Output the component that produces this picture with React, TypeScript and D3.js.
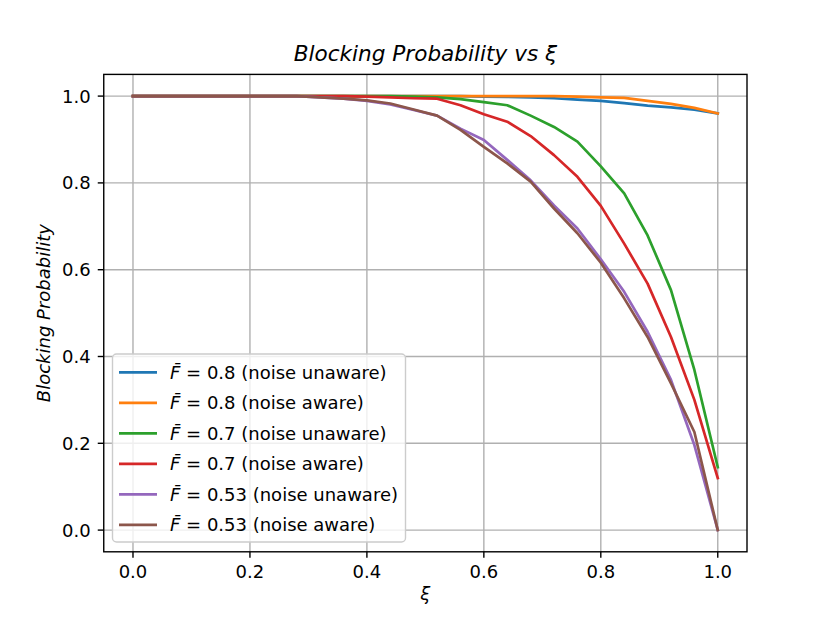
import React, { useEffect, useRef } from 'react';
import * as d3 from 'd3';

// xi sample points (0.04 step)
const xiValues = [
  0, 0.04, 0.08, 0.12, 0.16, 0.2, 0.24, 0.28, 0.32, 0.36, 0.4, 0.44, 0.48,
  0.52, 0.56, 0.6, 0.64, 0.68, 0.72, 0.76, 0.8, 0.84, 0.88, 0.92, 0.96, 1.0,
];

const f08Unaware = [
  1, 1, 1, 1, 1, 1, 1, 1, 1, 1, 1, 1, 1, 1, 1,
  0.999, 0.998, 0.997, 0.995, 0.992, 0.989, 0.984, 0.978, 0.974, 0.969, 0.96,
];
const f08Aware = [
  1, 1, 1, 1, 1, 1, 1, 1, 1, 1, 1, 1, 1, 1, 1,
  1, 1, 1, 1, 0.999, 0.997, 0.996, 0.989, 0.982, 0.973, 0.96,
];
const f07Unaware = [
  1, 1, 1, 1, 1, 1, 1, 1, 1, 1, 1, 1, 0.999,
  0.997, 0.993, 0.986, 0.979, 0.955, 0.929, 0.895, 0.838, 0.776, 0.679, 0.553, 0.369, 0.145,
];
const f07Aware = [
  1, 1, 1, 1, 1, 1, 1, 1, 1, 1, 0.999, 0.997, 0.995,
  0.994, 0.979, 0.958, 0.941, 0.908, 0.864, 0.814, 0.747, 0.66, 0.568, 0.445, 0.3, 0.12,
];
const f053Unaware = [
  1, 1, 1, 1, 1, 1, 1, 1, 0.997, 0.994, 0.989, 0.981, 0.968,
  0.955, 0.925, 0.899, 0.853, 0.806, 0.748, 0.695, 0.624, 0.549, 0.457, 0.346, 0.196, 0,
];
const f053Aware = [
  1, 1, 1, 1, 1, 1, 1, 1, 0.997, 0.994, 0.99, 0.983, 0.969,
  0.955, 0.922, 0.883, 0.845, 0.803, 0.741, 0.684, 0.616, 0.534, 0.445, 0.338, 0.226, 0,
];

const seriesValues = [f08Unaware, f08Aware, f07Unaware, f07Aware, f053Unaware, f053Aware];
const fBarLabels = ['0.8', '0.8', '0.7', '0.7', '0.53', '0.53'];
const modeLabels = ['noise unaware', 'noise aware', 'noise unaware', 'noise aware', 'noise unaware', 'noise aware'];
const colors = ['#1f77b4', '#ff7f0e', '#2ca02c', '#d62728', '#9467bd', '#8c564b'];

const tickValues = [0, 0.2, 0.4, 0.6, 0.8, 1.0];

const W = 830;
const H = 620;
const FONT = 'DejaVu Sans, sans-serif';

const App: React.FC = () => {
  const ref = useRef<SVGSVGElement>(null);

  useEffect(() => {
    const svg = d3.select(ref.current);
    svg.selectAll('*').remove();

    // matplotlib default axes box
    const left = 0.125 * W;
    const right = 0.9 * W;
    const top = H - 0.88 * H;
    const bottom = H - 0.11 * H;

    const x = d3.scaleLinear().domain([-0.05, 1.05]).range([left, right]);
    const y = d3.scaleLinear().domain([-0.05, 1.05]).range([bottom, top]);

    svg.append('rect').attr('width', W).attr('height', H).attr('fill', '#fff');

    // grid
    const grid = svg.append('g').attr('stroke', '#b0b0b0').attr('stroke-width', 1.4);
    tickValues.forEach((t) => {
      grid.append('line').attr('x1', x(t)).attr('x2', x(t)).attr('y1', top).attr('y2', bottom);
      grid.append('line').attr('x1', left).attr('x2', right).attr('y1', y(t)).attr('y2', y(t));
    });

    // lines
    const line = d3.line<number>()
      .x((_, i) => x(xiValues[i]))
      .y((d) => y(d));

    const clip = svg.append('clipPath').attr('id', 'plotclip');
    clip.append('rect').attr('x', left).attr('y', top).attr('width', right - left).attr('height', bottom - top);

    const lines = svg.append('g').attr('clip-path', 'url(#plotclip)');
    seriesValues.forEach((vals, i) => {
      lines.append('path')
        .attr('d', line(vals))
        .attr('fill', 'none')
        .attr('stroke', colors[i])
        .attr('stroke-width', 2.7)
        .attr('stroke-linejoin', 'round')
        .attr('stroke-linecap', 'square');
    });

    // spines
    svg.append('rect')
      .attr('x', left).attr('y', top)
      .attr('width', right - left).attr('height', bottom - top)
      .attr('fill', 'none').attr('stroke', '#000').attr('stroke-width', 1.4);

    // ticks
    const fmt = d3.format('.1f');
    const ticks = svg.append('g').attr('font-family', FONT).attr('font-size', 18).attr('fill', '#000');
    tickValues.forEach((t) => {
      ticks.append('line').attr('x1', x(t)).attr('x2', x(t)).attr('y1', bottom).attr('y2', bottom + 6)
        .attr('stroke', '#000').attr('stroke-width', 1.4);
      ticks.append('text').attr('x', x(t)).attr('y', bottom + 26).attr('text-anchor', 'middle').text(fmt(t));
      ticks.append('line').attr('x1', left - 6).attr('x2', left).attr('y1', y(t)).attr('y2', y(t))
        .attr('stroke', '#000').attr('stroke-width', 1.4);
      ticks.append('text').attr('x', left - 13).attr('y', y(t) + 6.5).attr('text-anchor', 'end').text(fmt(t));
    });

    // labels
    svg.append('text')
      .attr('x', (left + right) / 2).attr('y', 61)
      .attr('text-anchor', 'middle').attr('font-family', FONT).attr('font-size', 21.6)
      .attr('font-style', 'italic').text('Blocking Probability vs ξ');

    svg.append('text')
      .attr('x', (left + right) / 2).attr('y', 600)
      .attr('text-anchor', 'middle').attr('font-family', FONT).attr('font-size', 18)
      .attr('font-style', 'italic').text('ξ');

    svg.append('text')
      .attr('transform', `translate(50,${(top + bottom) / 2}) rotate(-90)`)
      .attr('text-anchor', 'middle').attr('font-family', FONT).attr('font-size', 18)
      .attr('font-style', 'italic').text('Blocking Probability');

    // legend
    const lg = svg.append('g');
    lg.append('rect')
      .attr('x', 112.5).attr('y', 354).attr('width', 293).attr('height', 188)
      .attr('rx', 4).attr('fill', '#fff').attr('fill-opacity', 0.8)
      .attr('stroke', '#cccccc').attr('stroke-width', 1.4);
    seriesValues.forEach((_, i) => {
      const cy = 372.3 + i * 30.5;
      lg.append('line').attr('x1', 119).attr('x2', 157).attr('y1', cy).attr('y2', cy)
        .attr('stroke', colors[i]).attr('stroke-width', 2.7);
      const t = lg.append('text').attr('x', 170).attr('y', cy + 6.5)
        .attr('font-family', FONT).attr('font-size', 18).attr('fill', '#000');
      t.append('tspan').attr('font-style', 'italic').text('F\u0304');
      t.append('tspan').text(` = ${fBarLabels[i]} (${modeLabels[i]})`);
    });
  }, []);

  return (
    <svg ref={ref} width={W} height={H} style={{ position: 'absolute', left: 0, top: 0 }} />
  );
};

export default App;
